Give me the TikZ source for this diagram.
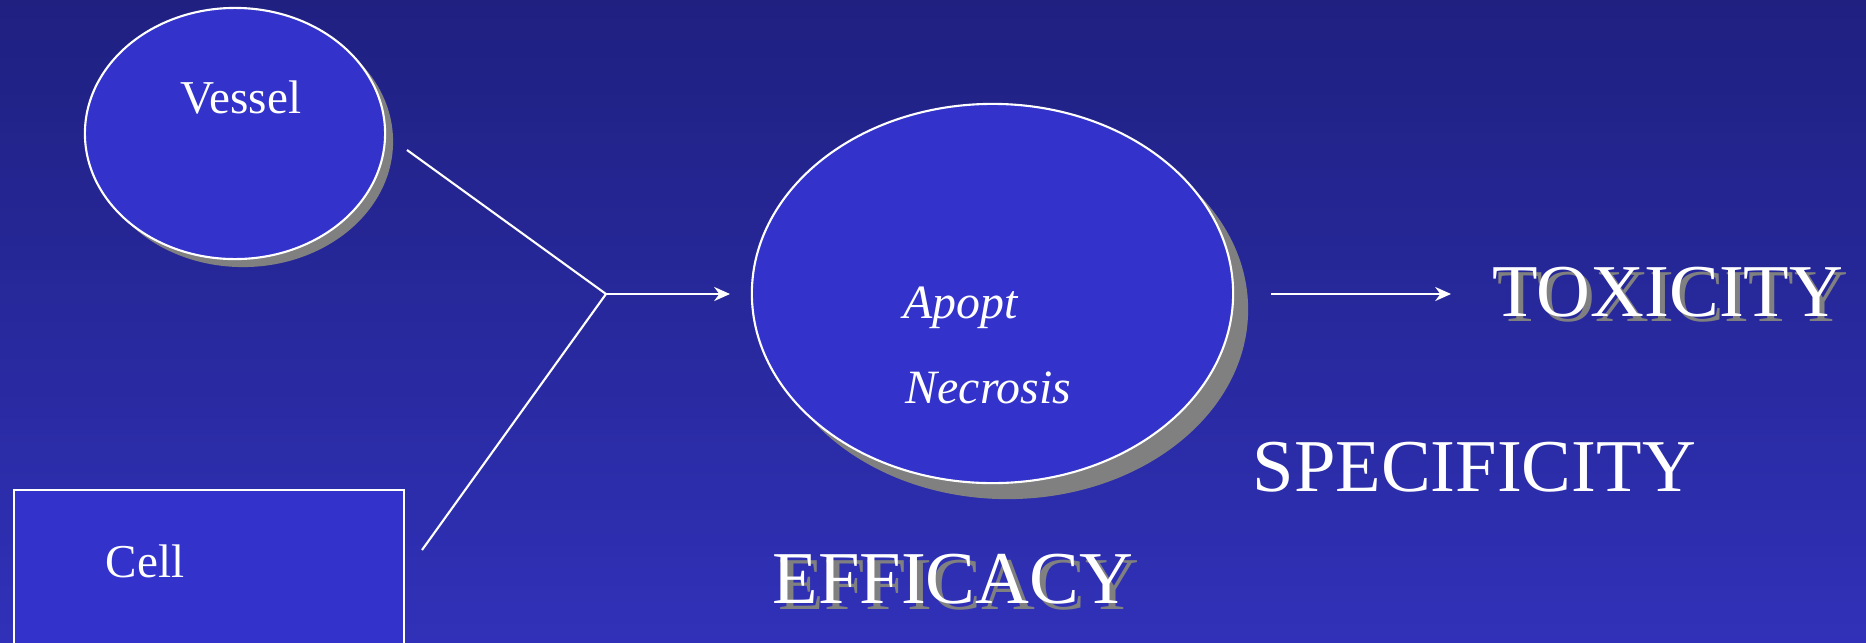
\documentclass[tikz,border=0pt]{standalone}
\usepackage{fontspec}
\setmainfont{Liberation Serif}
\usetikzlibrary{shapes.geometric,shadows,arrows.meta}

\definecolor{bgtop}{HTML}{1F2080}
\definecolor{bgbot}{HTML}{3031B8}
\definecolor{blobfill}{HTML}{3333CC}
\definecolor{shade}{HTML}{808080}

% text with a grey copy set behind it, down and to the right
\newcommand\dropped[2]{\makebox[0pt][l]{\kern#1\raisebox{-#1}{\color{shade}#2}}#2}

\tikzset{
    blob/.style={ellipse, draw=white, line width=0.6pt, fill=blobfill, inner sep=0pt},
    wire/.style={draw=white, line width=0.6pt},
    lbl/.style={text=white, inner sep=0pt, font=\fontsize{13.4}{16}\selectfont},
    sublbl/.style={text=white, inner sep=0pt, font=\fontsize{13.6}{16}\selectfont\itshape},
    big/.style={text=white, inner sep=0pt, font=\fontsize{21.2}{25}\selectfont},
}

\begin{document}
\begin{tikzpicture}[x=0.01cm, y=-0.01cm]
    % background
    \clip (0,0) rectangle (1866,642);
    \fill [top color=bgtop, bottom color=bgbot] (0,0) rectangle (1866,642);

    % the two sources
    \node [blob, minimum width=3cm, minimum height=2.51cm,
        drop shadow={shadow xshift=0.08cm, shadow yshift=-0.08cm, fill=shade, opacity=1}]
        (vessel) at (235,133.5) {};
    \node [lbl, anchor=base] (vesseltxt) at (241,113) {Vessel};
    \node [draw=white, line width=0.6pt, fill=blobfill, inner sep=0pt,
        minimum width=3.9cm, minimum height=2cm, anchor=north west]
        (cell) at (13,489) {};
    \node [lbl, anchor=base] (celltxt) at (145,577) {Cell};

    % the effect
    \node [blob, minimum width=4.81cm, minimum height=3.79cm,
        drop shadow={shadow xshift=0.15cm, shadow yshift=-0.16cm, fill=shade, opacity=1}]
        (death) at (992.5,293.5) {};
    \node [sublbl, anchor=base west] (apopt) at (903,318) {Apopt};
    \node [sublbl, anchor=base west] (necrosis) at (905,403) {Necrosis};

    % outcomes
    \node [big, anchor=base west] (tox) at (1492,316) {\dropped{0.05cm}{TOXICITY}};
    \node [big, anchor=base west] (spec) at (1252,491) {SPECIFICITY};
    \node [big, anchor=base west] (eff) at (772,603) {\dropped{0.06cm}{EFFICACY}};

    % connectors
    \coordinate (vesselend) at (407,150);
    \coordinate (cellend) at (422,550);
    \coordinate (join) at (606,294);
    \coordinate (deathin) at (730,294);
    \coordinate (deathout) at (1271,294);
    \coordinate (toxin) at (1451,294);
    \draw [wire] (vesselend) -- (join) -- (cellend);
    \draw [wire, -{Stealth[length=4.5pt, width=4pt]}] (join) -- (deathin);
    \draw [wire, -{Stealth[length=4.5pt, width=4pt]}] (deathout) -- (toxin);
\end{tikzpicture}
\end{document}
